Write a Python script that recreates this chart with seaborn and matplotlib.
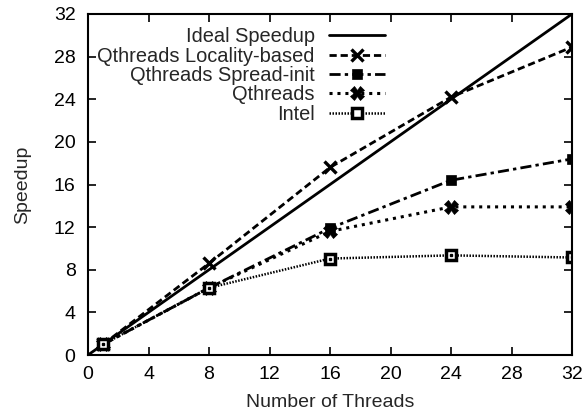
import matplotlib
matplotlib.use("Agg")
import matplotlib.pyplot as plt
import seaborn as sns

threads = [1, 8, 16, 24, 32]
ideal_threads = [0, 32]
ideal_speedup = [0, 32]
locality = [1.0, 8.6, 17.6, 24.2, 28.9]
spread_init = [1.0, 6.3, 11.9, 16.4, 18.4]
qthreads = [1.0, 6.3, 11.6, 13.9, 13.9]
intel = [1.0, 6.3, 9.05, 9.35, 9.15]

labels = ["Ideal Speedup", "Qthreads Locality-based", "Qthreads Spread-init", "Qthreads", "Intel"]
ticks = [0, 4, 8, 12, 16, 20, 24, 28, 32]

sns.set_theme(style="ticks")
plt.rcParams['font.family'] = ['Liberation Sans', 'DejaVu Sans']

fig = plt.figure(figsize=(5.86, 4.16), dpi=100)
ax = fig.add_axes([88/586, 1 - 355/416, (572-88)/586, (355-14)/416])

sns.lineplot(x=ideal_threads, y=ideal_speedup, ax=ax, color="black", lw=2.0,
             linestyle="-", label=labels[0])
sns.lineplot(x=threads, y=locality, ax=ax, color="black", lw=2.0,
             linestyle=(0, (2.6, 1.4)), marker="x", markersize=8,
             markeredgecolor="black", mew=2.4, label=labels[1])
sns.lineplot(x=threads, y=spread_init, ax=ax, color="black", lw=2.0,
             linestyle=(0, (4, 1.5, 1.2, 1.5)), marker="s", markersize=7.5,
             markeredgecolor="black", mew=0.5, label=labels[2])
sns.lineplot(x=threads, y=qthreads, ax=ax, color="black", lw=2.2,
             linestyle=(0, (1, 1.6)), marker="X", markersize=9.5,
             markeredgecolor="black", mew=0.5, label=labels[3])
sns.lineplot(x=threads, y=intel, ax=ax, color="black", lw=1.8,
             linestyle=(0, (0.6, 0.6)), marker="s", markersize=7,
             markerfacecolor="white", markeredgecolor="black", mew=2.5,
             label=labels[4])
ax.plot(threads, intel, linestyle="none", marker="s", markersize=2,
        color="black")

ax.set_xlim(0, 32)
ax.set_ylim(0, 32)
ax.set_xticks(ticks)
ax.set_yticks(ticks)
ax.tick_params(direction="in", length=6, width=1.2, top=True, right=True,
               labelsize=14, colors="black")
ax.tick_params(axis="y", pad=9)
ax.tick_params(axis="x", pad=8)
for s in ax.spines.values():
    s.set_visible(True)
    s.set_linewidth(1.5)
    s.set_color("black")
ax.set_xlabel("Number of Threads", fontsize=14, labelpad=8)
ax.set_ylabel("Speedup", fontsize=14, labelpad=16)

leg = ax.legend(loc="upper right", bbox_to_anchor=(0.613, 0.961), frameon=False,
                markerfirst=False, fontsize=14.4, handlelength=2.8,
                labelspacing=0.02, handletextpad=0.7, borderaxespad=0.0,
                borderpad=0.0)

fig.savefig("out.png", dpi=100)
